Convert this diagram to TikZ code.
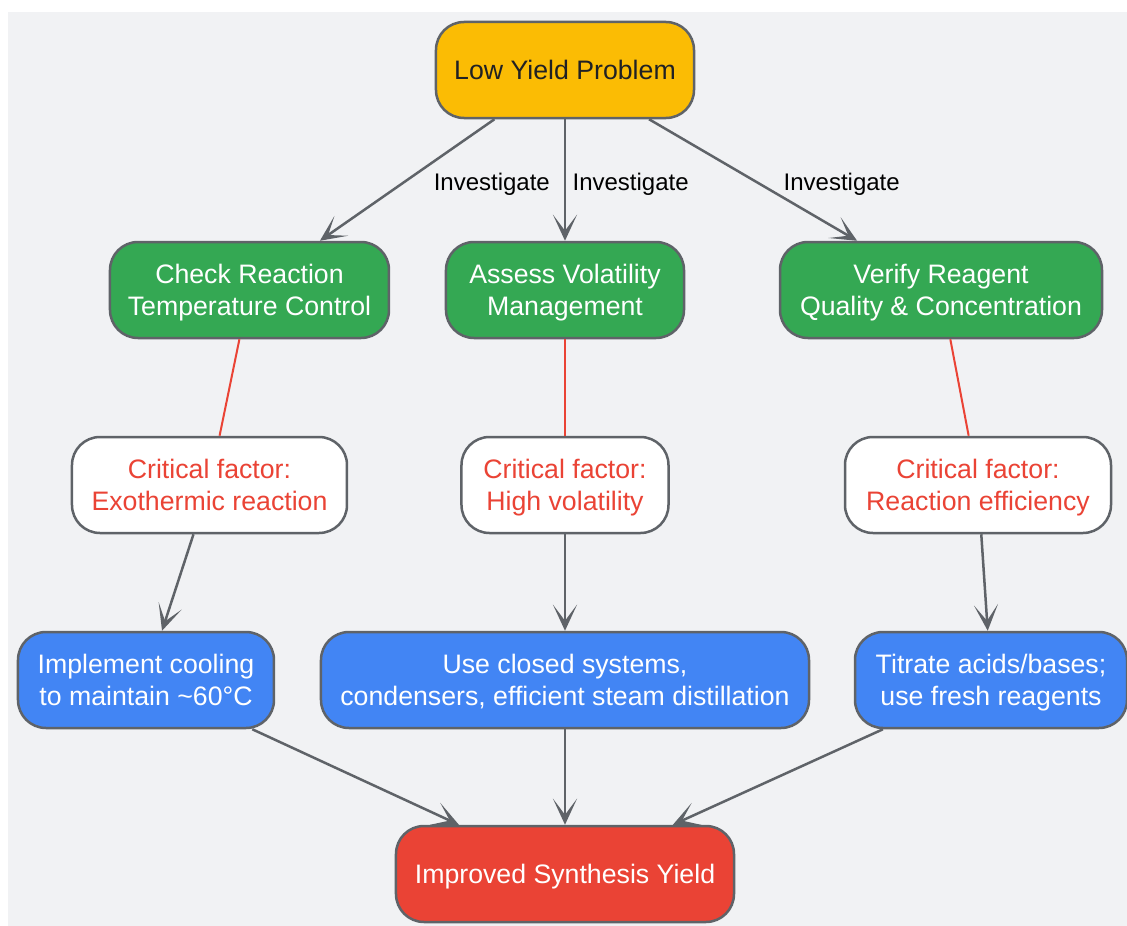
\documentclass[tikz,border=0pt]{standalone}
\usepackage{fontspec}
\setmainfont{Liberation Sans}
\usetikzlibrary{arrows.meta}

\definecolor{bggray}{HTML}{F1F2F4}
\definecolor{edgegray}{HTML}{5F6368}
\definecolor{gyellow}{HTML}{FBBC04}
\definecolor{ggreen}{HTML}{34A853}
\definecolor{gblue}{HTML}{4285F4}
\definecolor{gred}{HTML}{EA4335}
\definecolor{darktext}{HTML}{202124}

\begin{document}
\begin{tikzpicture}[node distance=195pt,
    every node/.style={font=\fontsize{26.7}{32}\selectfont},
    box/.style={rectangle, draw=edgegray, line width=2.5pt, rounded corners=28pt, align=center, minimum height=96pt, inner xsep=10pt, text depth=0pt},
    oneline/.style={text height=19pt},
    twoline/.style={text height=51pt},
    problem/.style={box, oneline, fill=gyellow, text=darktext},
    check/.style={box, twoline, fill=ggreen, text=white},
    factor/.style={box, twoline, fill=white, text=gred},
    fix/.style={box, twoline, fill=gblue, text=white},
    goal/.style={box, oneline, fill=gred, text=white},
    arr/.style={draw=edgegray, line width=2.5pt, -{Stealth[length=26pt, width=24pt, inset=16pt]}},
    link/.style={draw=gred, line width=2pt},
    lbl/.style={font=\fontsize{24}{28}\selectfont, anchor=west, yshift=-4pt}]

    % Canvas
    \useasboundingbox (-565pt,70pt) rectangle (562pt,-856pt);
    \fill[bggray] (-557pt,58pt) rectangle (562pt,-856pt);

    % Problem
    \node (low) [problem, minimum width=258pt] {Low Yield Problem};

    % Checks
    \node (assess) [check, minimum width=238pt, below of=low, yshift=-25pt] {Assess Volatility\\Management};
    \node (temp) [check, minimum width=279pt, left of=assess, xshift=-120.5pt] {Check Reaction\\Temperature Control};
    \node (reagent) [check, minimum width=322pt, right of=assess, xshift=181pt] {Verify Reagent\\Quality \& Concentration};
    \draw[arr] (low) -- node[lbl, pos=0.5, xshift=22pt] {Investigate} (temp);
    \draw[arr] (low) -- node[lbl, pos=0.5, xshift=3pt] {Investigate} (assess);
    \draw[arr] (low) -- node[lbl, pos=0.5, xshift=26pt] {Investigate} (reagent);

    % Critical factors
    \node (volat) [factor, minimum width=207pt, below of=assess] {Critical factor:\\High volatility};
    \node (exo) [factor, minimum width=275pt, left of=volat, xshift=-160.5pt] {Critical factor:\\Exothermic reaction};
    \node (eff) [factor, minimum width=266pt, right of=volat, xshift=218pt] {Critical factor:\\Reaction efficiency};
    \draw[link] (temp) -- (exo);
    \draw[link] (assess) -- (volat);
    \draw[link] (reagent) -- (eff);

    % Fixes
    \node (closed) [fix, minimum width=488pt, below of=volat] {Use closed systems,\\condensers, efficient steam distillation};
    \node (cool) [fix, minimum width=256pt, left of=closed, xshift=-224pt] {Implement cooling\\to maintain \textasciitilde60°C};
    \node (titrate) [fix, minimum width=272pt, right of=closed, xshift=231pt] {Titrate acids/bases;\\use fresh reagents};
    \draw[arr] (exo) -- (cool);
    \draw[arr] (volat) -- (closed);
    \draw[arr] (eff) -- (titrate);

    % Goal
    \node (yield) [goal, minimum width=338pt, below of=closed, yshift=1pt] {Improved Synthesis Yield};
    \draw[arr] (cool) -- (yield);
    \draw[arr] (closed) -- (yield);
    \draw[arr] (titrate) -- (yield);

\end{tikzpicture}
\end{document}
